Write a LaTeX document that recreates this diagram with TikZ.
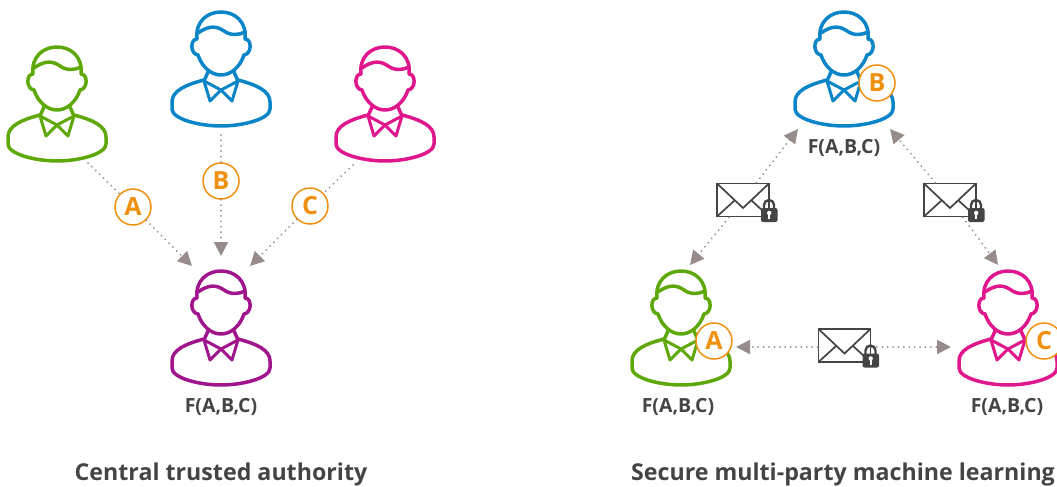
\documentclass[tikz,border=0pt]{standalone}
\usepackage{fontspec}
\setmainfont{Open Sans}
\usepackage{xcolor}
\usetikzlibrary{arrows.meta}
\definecolor{mygreen}{HTML}{5FA80A}
\definecolor{myblue}{HTML}{0A86C8}
\definecolor{mypink}{HTML}{E0168C}
\definecolor{mypurple}{HTML}{A0148C}
\definecolor{myorange}{HTML}{F0900F}
\definecolor{mygrey}{HTML}{978C8A}
\definecolor{mydark}{HTML}{444444}
\tikzset{
    person/.pic={
        \begin{scope}[line width=3.5pt,line join=round,line cap=round]
        \draw (-24,27) .. controls (-26,10) and (-14,0) .. (0,0) .. controls (14,0) and (26,10) .. (24,27);
        \draw (-23,21) .. controls (-12,13) and (-4,14) .. (3,19) .. controls (10,24) and (18,23) .. (24,20);
        \draw (-24,27) .. controls (-31,27) and (-31,42) .. (-23,43) .. controls (-19,55) and (-10,63) .. (0,63) .. controls (10,63) and (19,55) .. (23,43) .. controls (31,42) and (31,27) .. (24,27);
        \draw (-13,60)--(-17,69);
        \draw (13,60)--(17,69);
        \draw[line width=3pt] (-17,69)--(-11,89)--(0,78)--(11,89)--(17,69);
        \draw[line width=3pt] (-17,69)--(0,78)--(17,69);
        \draw (-17,68) .. controls (-36,73) and (-49,79) .. (-49,90) -- (-49,97) .. controls (-49,107) and (-22,114) .. (0,114) .. controls (22,114) and (49,107) .. (49,97) -- (49,90) .. controls (49,79) and (36,73) .. (17,68);
        \end{scope}
    },
    envelope/.pic={
        \draw[mydark,line width=1.7pt] (-26,-16.5)--(0,8)--(26,-16.5);
        \draw[mydark,line width=1.7pt] (-26,16.5)--(-8.5,0.5);
        \draw[mydark,line width=1.7pt] (26,16.5)--(8.5,0.5);
        \draw[mydark,line width=2.4pt] (21,9)--(21,5) arc (180:360:5)--(31,9);
        \fill[mydark,rounded corners=2pt] (18,8) rectangle (34.5,22);
        \fill[white] (26.2,13) circle (2.2);
        \fill[white] (25.4,13)--(27,13)--(27,19)--(25.4,19)--cycle;
    },
    badge/.style={circle,draw=myorange,line width=1.5pt,fill=white,text=myorange,minimum size=36pt,inner sep=0pt,font=\fontsize{25}{25}\selectfont\bfseries},
    mail/.style={draw=mydark,line width=1.9pt,fill=white,minimum width=52pt,minimum height=33pt,inner sep=0pt},
    link/.style={draw=mygrey,line width=2pt,line cap=round,dash pattern=on 0pt off 5.4pt},
    tip/.style={-{Triangle[length=14pt,width=14pt,fill=mygrey,color=mygrey,sep=0pt]}},
    result/.style={text=mydark,font=\fontsize{19.5}{20}\selectfont\bfseries},
    title/.style={text=mydark,font=\fontsize{23.2}{28}\selectfont\bfseries}
}
\begin{document}
\begin{tikzpicture}[x=1pt,y=-1pt]
    \path[use as bounding box] (0,0) rectangle (1057,487);
    \clip (0,0) rectangle (1057,487);
    % left side
    \pic[color=mygreen] at (57,47) {person};
    \pic[color=myblue] at (221,12) {person};
    \pic[color=mypink] at (385,47) {person};
    \pic[color=mypurple] at (221,271) {person};
    \node[badge] (badgeA) at (133,207) {A};
    \node[badge] (badgeB) at (221,181) {B};
    \node[badge] (badgeC) at (310,206) {C};
    \coordinate (greenout) at (88,163);
    \coordinate (blueout) at (221,135);
    \coordinate (pinkout) at (353,165);
    \coordinate (purpleA) at (192,266);
    \coordinate (purpleB) at (221,256);
    \coordinate (purpleC) at (250,266);
    \draw[link] (greenout)--(badgeA);
    \draw[link,tip] (badgeA)--(purpleA);
    \draw[link] (blueout)--(badgeB);
    \draw[link,tip] (badgeB)--(purpleB);
    \draw[link] (pinkout)--(badgeC);
    \draw[link,tip] (badgeC)--(purpleC);
    \node[result] (resultcentral) at (221,407) {F(A,B,C)};
    \node[title] (titlecentral) at (221,474) {Central trusted authority};
    % right side
    \pic[color=myblue] at (844,12) {person};
    \pic[color=mygreen] at (681,271) {person};
    \pic[color=mypink] at (1008,271) {person};
    \node[badge] (secretB) at (877,83) {B};
    \node[badge] (secretA) at (714,341) {A};
    \node[badge] (secretC) at (1044,341) {C};
    \node[result] (resultblue) at (844,148) {F(A,B,C)};
    \node[result] (resultgreen) at (678,407) {F(A,B,C)};
    \node[result] (resultpink) at (1007,407) {F(A,B,C)};
    \node[title] (titlesecure) at (843,474) {Secure multi-party machine learning};
    \coordinate (blueleft) at (798,129);
    \coordinate (blueright) at (890,129);
    \coordinate (greenup) at (690,265);
    \coordinate (pinkup) at (998,265);
    \coordinate (greenside) at (736,347);
    \coordinate (pinkside) at (951,347);
    \node[mail] (mailleft) at (743,200) {};
    \node[mail] (mailright) at (950,200) {};
    \node[mail] (mailbottom) at (844.5,345.5) {};
    \draw[link,tip] (mailleft)--(blueleft);
    \draw[link,tip] (mailleft)--(greenup);
    \draw[link,tip] (mailright)--(blueright);
    \draw[link,tip] (mailright)--(pinkup);
    \draw[link,tip] (mailbottom.west |- greenside)--(greenside);
    \draw[link,tip] (mailbottom.east |- pinkside)--(pinkside);
    \pic at (mailleft) {envelope};
    \pic at (mailright) {envelope};
    \pic at (mailbottom) {envelope};
\end{tikzpicture}
\end{document}
